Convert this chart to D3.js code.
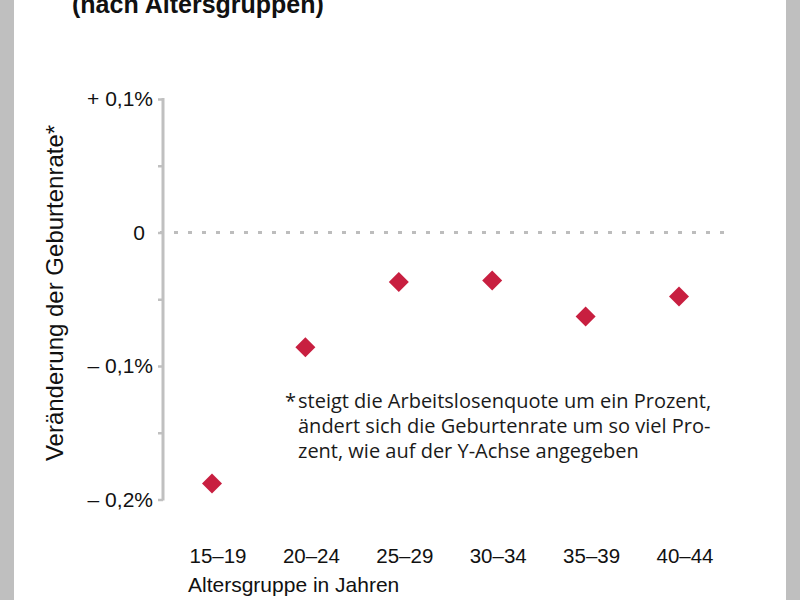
<!DOCTYPE html>
<html><head><meta charset="utf-8">
<script src="https://cdn.jsdelivr.net/npm/d3@7"></script>
<style>body{margin:0;background:#fff}svg{display:block}</style>
</head><body>
<svg id="c" width="800" height="600"></svg>
<script>
const categories = ["15–19","20–24","25–29","30–34","35–39","40–44"];
const values = [-0.188,-0.086,-0.037,-0.036,-0.063,-0.048];
const yTicks = [0.1, 0, -0.1, -0.2];
const yTickLabels = ["+ 0,1%","0","– 0,1%","– 0,2%"];
const yMinorTicks = [0.05, -0.05, -0.15];
const title = "(nach Altersgruppen)";
const yTitle = "Veränderung der Geburtenrate*";
const xTitle = "Altersgruppe in Jahren";
const footnote = ["steigt die Arbeitslosenquote um ein Prozent,","ändert sich die Geburtenrate um so viel Pro-","zent, wie auf der Y-Achse angegeben"];

const svg = d3.select("#c");
const font = "'Liberation Sans', Arial, Helvetica, sans-serif";
svg.append("rect").attr("x",0).attr("y",0).attr("width",14).attr("height",600).attr("fill","#bfbfbf");
svg.append("rect").attr("x",786).attr("y",0).attr("width",14).attr("height",600).attr("fill","#bfbfbf");

svg.append("text").attr("x",72).attr("y",13).attr("font-family",font).attr("font-weight","bold")
  .attr("font-size",25).attr("fill","#111").text(title);

const y = d3.scaleLinear().domain([-0.2,0.1]).range([499.5,99]);
const x = d3.scalePoint().domain(categories).range([212,679]);

// zero dotted line
svg.append("line").attr("x1",160).attr("x2",727).attr("y1",y(0)).attr("y2",y(0))
  .attr("stroke","#bdbdbd").attr("stroke-width",3).attr("stroke-dasharray","4,10");

const axisX = 163;
const gy = svg.append("g").attr("transform",`translate(${axisX},0)`)
  .call(d3.axisLeft(y).tickValues(yTicks).tickSize(5).tickPadding(5)
    .tickFormat(d=>yTickLabels[yTicks.indexOf(d)]));
gy.attr("font-size",null).attr("font-family",null);
gy.select(".domain").attr("d",`M0,${y(0.1)-1}V${y(-0.2)+1}`).attr("stroke","#c0c0c0").attr("stroke-width",3);
gy.selectAll(".tick line").attr("stroke","#c0c0c0").attr("stroke-width",2.5);
gy.selectAll(".tick text").style("font-family",font).style("font-size","21px").attr("fill","#111")
  .attr("dx",d=>d===0?-8:0);
const gm = svg.append("g").attr("transform",`translate(${axisX},0)`)
  .call(d3.axisLeft(y).tickValues(yMinorTicks).tickSize(5).tickFormat(""));
gm.select(".domain").remove();
gm.selectAll(".tick line").attr("stroke","#c0c0c0").attr("stroke-width",2.5);

// x labels
svg.append("g").selectAll("text").data(categories).join("text")
  .attr("x",d=>x(d)+6).attr("y",563).attr("text-anchor","middle")
  .attr("font-family",font).attr("font-size",20.5).attr("fill","#111").text(d=>d);
svg.append("text").attr("x",188).attr("y",592).attr("font-family",font).attr("font-size",21)
  .attr("fill","#111").text(xTitle);

// y title
svg.append("text").attr("transform","translate(63,293) rotate(-90)").attr("text-anchor","middle")
  .attr("font-family",font).attr("font-size",24).attr("fill","#111").text(yTitle);

// points
svg.append("g").selectAll("path").data(values).join("path")
  .attr("d",d3.symbol().type(d3.symbolSquare).size(200))
  .attr("transform",(d,i)=>`translate(${x(categories[i])},${y(d)}) rotate(45)`)
  .attr("fill","#c81f40");

// footnote
const ff = "'Open Sans', 'Noto Sans', sans-serif";
svg.append("text").attr("x",285).attr("y",408).attr("font-family",ff).attr("font-size",20).attr("fill","#1a1a1a").text("*");
svg.append("g").selectAll("text").data(footnote).join("text")
  .attr("x",298).attr("y",(d,i)=>408+i*25).attr("font-family",ff).attr("font-size",20).attr("fill","#1a1a1a").text(d=>d);
</script>
</body></html>
